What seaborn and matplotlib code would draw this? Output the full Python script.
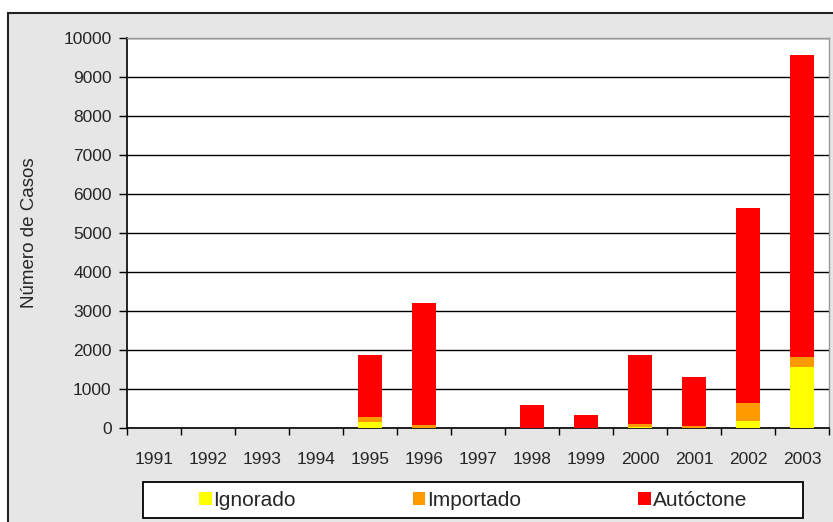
import matplotlib
matplotlib.use("Agg")
import matplotlib.pyplot as plt
import numpy as np
import pandas as pd
import seaborn as sns
from matplotlib.patches import Patch, Rectangle

years = ["1991", "1992", "1993", "1994", "1995", "1996", "1997",
         "1998", "1999", "2000", "2001", "2002", "2003"]
ignorado = [0, 0, 0, 0, 160, 10, 0, 0, 0, 20, 10, 180, 1560]
importado = [0, 0, 0, 0, 130, 60, 0, 10, 10, 90, 40, 450, 250]
autoctone = [0, 0, 0, 0, 1570, 3140, 0, 590, 330, 1770, 1270, 5010, 7750]

sns.set_theme(style="white")
plt.rcParams["font.family"] = ["Liberation Sans", "DejaVu Sans"]

df = pd.DataFrame({"year": years, "Ignorado": ignorado,
                   "Importado": importado, "Autóctone": autoctone})
df["imp_top"] = df["Ignorado"] + df["Importado"]
df["total"] = df["imp_top"] + df["Autóctone"]

bg = "#e6e6e6"
fig = plt.figure(figsize=(8.33, 5.22), dpi=100, facecolor="white")
fig.patches.append(Rectangle((8 / 833, -0.1), 1.0, 1 - 13 / 522 + 0.1,
                             transform=fig.transFigure, facecolor=bg,
                             edgecolor="#222222", linewidth=1.5, zorder=-5))
ax = fig.add_axes([127 / 833, 1 - 428 / 522, (829 - 127) / 833, (428 - 38) / 522])
ax.set_zorder(2)

colors = {"Ignorado": "#ffff00", "Importado": "#ff9900", "Autóctone": "#ff0000"}
w = 0.46
sns.barplot(df, x="year", y="total", color=colors["Autóctone"], width=w,
            saturation=1, ax=ax, zorder=3)
sns.barplot(df, x="year", y="imp_top", color=colors["Importado"], width=w,
            saturation=1, ax=ax, zorder=3)
sns.barplot(df, x="year", y="Ignorado", color=colors["Ignorado"], width=w,
            saturation=1, ax=ax, zorder=3)
for p in ax.patches:
    p.set_edgecolor("none")

ax.set_facecolor("white")
ax.set_ylim(0, 10000)
ax.set_xlim(-0.5, 12.5)
ax.set_yticks(np.arange(0, 10001, 1000))
ax.set_yticklabels([str(v) for v in range(0, 10001, 1000)], fontsize=12.5)
ax.yaxis.grid(True, color="black", linewidth=1)
ax.set_axisbelow(True)
ax.set_xlabel("")
ax.set_ylabel("Número de Casos", fontsize=13.5, labelpad=18)
ax.tick_params(axis="x", which="major", length=0, labelsize=12.5, pad=17)
ax.set_xticks(np.arange(-0.5, 13, 1), minor=True)
ax.tick_params(axis="x", which="minor", length=5, width=1, color="black",
               direction="out", bottom=True)
ax.tick_params(axis="y", length=6, width=1, color="black", direction="out",
               left=True, pad=5)
for s in ["left", "bottom"]:
    ax.spines[s].set_color("black")
    ax.spines[s].set_linewidth(1.2)
for s in ["top", "right"]:
    ax.spines[s].set_color("#999999")
    ax.spines[s].set_linewidth(1)

# legend box
fig.patches.append(Rectangle((143 / 833, 4 / 522), (803 - 143) / 833, 36 / 522,
                             transform=fig.transFigure, facecolor="white",
                             edgecolor="black", linewidth=1.3, zorder=3))
handles = [Patch(facecolor=colors[k], edgecolor="none", label=k)
           for k in ["Ignorado", "Importado", "Autóctone"]]
leg = fig.legend(handles=handles, loc="center",
                 bbox_to_anchor=(473 / 833, 22 / 522),
                 ncol=3, frameon=False, fontsize=15, handlelength=0.6,
                 handleheight=0.6, handletextpad=0.1, columnspacing=5.6,
                 borderaxespad=0)
leg.set_zorder(5)

fig.savefig("out.png", dpi=100, facecolor="white")
